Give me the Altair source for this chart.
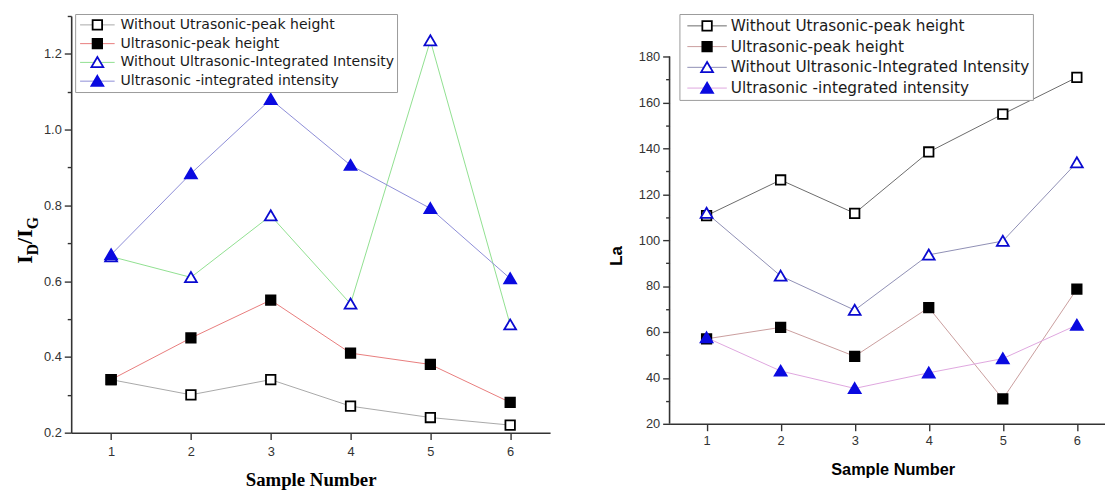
import altair as alt
import pandas as pd

samples = [1, 2, 3, 4, 5, 6]
series_labels = [
    "Without Utrasonic-peak height",
    "Ultrasonic-peak height",
    "Without Ultrasonic-Integrated Intensity",
    "Ultrasonic -integrated intensity",
]

left_open_sq = [0.34, 0.30, 0.34, 0.27, 0.24, 0.22]
left_fill_sq = [0.34, 0.45, 0.55, 0.41, 0.38, 0.28]
left_open_tri = [0.665, 0.61, 0.773, 0.54, 1.235, 0.485]
left_fill_tri = [0.67, 0.884, 1.08, 0.906, 0.792, 0.607]

right_open_sq = [110.7, 126.2, 111.7, 138.4, 154.9, 170.9]
right_fill_sq = [57.0, 62.0, 49.4, 70.6, 30.8, 78.7]
right_open_tri = [111.8, 84.4, 69.5, 93.6, 99.6, 133.8]
right_fill_tri = [57.5, 43.0, 35.4, 42.2, 48.4, 63.0]

left_line_colors = ["#a8a8a8", "#e87c7c", "#8fe08f", "#8c8cd6"]
right_line_colors = ["#6a6a6a", "#c99c9c", "#8e8eb4", "#dea6de"]

marker_shapes = [
    "M-0.8,-0.8H0.8V0.8H-0.8Z",
    "M-0.8,-0.8H0.8V0.8H-0.8Z",
    "M0,-0.9L1,0.8L-1,0.8Z",
    "M0,-0.9L1,0.8L-1,0.8Z",
]
marker_fills = ["white", "black", "white", "#0a0ae0"]
marker_strokes = ["black", "black", "#0a0ad0", "#0a0ae0"]

pt_labels = [s + " " for s in series_labels]


def make_df(series_values):
    rows = []
    for k, (lab, vals) in enumerate(zip(series_labels, series_values)):
        for s, v in zip(samples, vals):
            rows.append({"sample": s, "value": v, "series": lab,
                         "series_pt": lab + " ", "k": k})
    return pd.DataFrame(rows)


left_df = make_df([left_open_sq, left_fill_sq, left_open_tri, left_fill_tri])
right_df = make_df([right_open_sq, right_fill_sq, right_open_tri, right_fill_tri])

AX_COLOR = "#333333"
LEG_FONT = "DejaVu Sans"


def panel(df, line_colors, xdom, xvals, ydom, yvals, ytest, yfmt, show_ydomain,
          leg_x, leg_y, leg_pad, sym_len, sym_center, lab_x, clip_h, row_pad, lab_size,
          x_title_font, x_title_size, x_title_pad, x_lab_pad, x_title_x=None):
    title_extra = {} if x_title_x is None else {"titleX": x_title_x}
    x_axis = alt.Axis(
        values=xvals, format="d",
        labelExpr="datum.value % 1 === 0 ? datum.label : ''",
        tickSize={"condition": {"test": "datum.value % 1 === 0", "value": 7}, "value": 4},
        labelFont="Liberation Sans", labelFontSize=13, labelColor=AX_COLOR,
        labelPadding=x_lab_pad, domainColor=AX_COLOR, domainWidth=1.6,
        tickColor=AX_COLOR, tickWidth=1.4, grid=False,
        title="Sample Number", titleFont=x_title_font, titleFontSize=x_title_size,
        titleFontWeight="bold", titleColor="black", titlePadding=x_title_pad,
        **title_extra,
    )
    y_axis = alt.Axis(
        values=yvals, format=yfmt,
        labelExpr=f"{ytest} ? datum.label : ''",
        tickSize={"condition": {"test": ytest, "value": 7}, "value": 4},
        labelFont="Liberation Sans", labelFontSize=13, labelColor=AX_COLOR,
        labelPadding=3, domain=show_ydomain, domainColor=AX_COLOR, domainWidth=1.6,
        tickColor=AX_COLOR, tickWidth=1.4, grid=False, title=None,
    )
    xs = alt.Scale(domain=xdom, nice=False, zero=False)
    ys = alt.Scale(domain=ydom, nice=False, zero=False)
    x = alt.X("sample:Q", scale=xs, axis=x_axis)
    y = alt.Y("value:Q", scale=ys, axis=y_axis)

    entry = max(14, lab_size)
    sym_off = sym_center - entry / 2.0
    lab_off = lab_x - entry - sym_off
    half = sym_len / 2.0
    r = 6.0  # sqrt(144)/2
    common = dict(
        orient="none", legendX=leg_x, legendY=leg_y, title=None,
        symbolSize=144, symbolOffset=sym_off, clipHeight=clip_h,
        labelFont=LEG_FONT, labelFontSize=lab_size,
        labelOffset=lab_off, labelLimit=500, rowPadding=row_pad, padding=leg_pad,
    )
    leg_a = alt.Legend(
        symbolType=f"M-{half / r:.3f},0H{half / r:.3f}", symbolStrokeWidth=1,
        labelColor="#1a1a1a", fillColor="white", strokeColor="#9a9a9a",
        cornerRadius=0, zindex=1, **common,
    )
    leg_b = alt.Legend(symbolStrokeWidth=1.8, labelOpacity=0, zindex=2, **common)

    lines = alt.Chart(df).mark_line(strokeWidth=1).encode(
        x=x, y=y,
        color=alt.Color("series:N", scale=alt.Scale(domain=series_labels, range=line_colors),
                        legend=leg_a),
    )
    points = alt.Chart(df).mark_point(size=144, strokeWidth=1.8, opacity=1).encode(
        x=x, y=y,
        shape=alt.Shape("series_pt:N", scale=alt.Scale(domain=pt_labels, range=marker_shapes), legend=leg_b),
        fill=alt.Fill("series_pt:N", scale=alt.Scale(domain=pt_labels, range=marker_fills), legend=leg_b),
        stroke=alt.Stroke("series_pt:N", scale=alt.Scale(domain=pt_labels, range=marker_strokes), legend=leg_b),
        order=alt.Order("k:Q"),
    )
    layers = [lines, points]
    if not show_ydomain:
        axis_df = pd.DataFrame({"sample": [xdom[0]], "value": [yvals[0]], "value2": [yvals[-1]]})
        rule = alt.Chart(axis_df).mark_rule(color=AX_COLOR, strokeWidth=1.6).encode(
            x=x, y=y, y2="value2:Q",
        )
        layers.insert(0, rule)
    return layers


def txt(text, xpx, ypx, font, size, align="left", baseline="alphabetic"):
    return alt.Chart(alt.Data(values=[{"a": 1}])).mark_text(
        text=text, font=font, fontSize=size, fontWeight="bold", angle=270,
        align=align, baseline=baseline, color="black",
    ).encode(x=alt.value(xpx), y=alt.value(ypx))


SERIF = "Liberation Serif"
left_layers = panel(
    left_df, left_line_colors, [0.5, 6.5],
    [1, 1.5, 2, 2.5, 3, 3.5, 4, 4.5, 5, 5.5, 6, 6.5],
    [0.2, 1.3], [round(0.2 + 0.1 * i, 1) for i in range(12)],
    "round(datum.value*10) % 2 === 0", ".1f", True,
    4, -2, 3, 35, 19.5, 43, 16, 3, 14.2, SERIF, 19, 13, 6)
left_title = [
    txt("I", -40, 251, SERIF, 22),
    txt("D", -34, 242.4, SERIF, 16),
    txt("/I", -40, 230.8, SERIF, 22),
    txt("G", -34, 216.1, SERIF, 16),
]
left = alt.layer(*left_layers, *left_title).properties(width=485, height=422)

right_layers = panel(
    right_df, right_line_colors, [0.5, 6.38],
    [1, 1.5, 2, 2.5, 3, 3.5, 4, 4.5, 5, 5.5, 6],
    [20, 197.64], list(range(20, 181, 10)),
    "datum.value % 20 === 0", "d", False,
    10, -2, 3, 40, 25, 49, 18, 3, 15.5, "Liberation Sans", 16.5, 14, 4, 226)
right_title = [txt("La", -53, 243, "Liberation Sans", 17, align="center", baseline="middle")]
right = alt.layer(*right_layers, *right_title).properties(width=441, height=413)

chart = alt.hconcat(left, right, spacing=59).resolve_scale(
    x="independent", y="independent", color="independent",
    shape="independent", fill="independent", stroke="independent",
).resolve_legend(
    color="independent", shape="independent", fill="independent", stroke="independent",
).properties(
    padding={"left": 6, "top": 2, "right": 0, "bottom": 0},
    background="white",
).configure_view(stroke=None)

chart.save("out.html", embed_options={"renderer": "svg", "actions": False})
